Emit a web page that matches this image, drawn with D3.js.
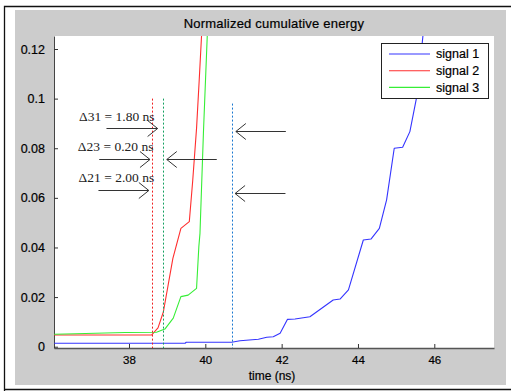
<!DOCTYPE html>
<html>
<head>
<meta charset="utf-8">
<script src="https://cdn.jsdelivr.net/npm/d3@7"></script>
<style>
  html, body { margin: 0; padding: 0; background: #ffffff; }
  svg { display: block; }
</style>
</head>
<body>
<svg id="chart" width="511" height="391"></svg>
<script>
// ---- data ---------------------------------------------------------------
const seriesNames = ["signal 1", "signal 2", "signal 3"];
const seriesColors = ["#3434ff", "#ff2e2e", "#36ee36"];

// time (ns) and normalized cumulative energy for each signal
const signal1Time = [36.04, 39.47, 39.50, 40.69, 40.91, 41.39, 41.61, 41.78, 41.96, 42.15, 42.35, 42.74,
                     43.35, 43.53, 43.75, 44.14, 44.34, 44.56, 44.75, 44.95, 45.17, 45.36, 45.54, 45.70, 45.76];
const signal1Energy = [0.0014, 0.0014, 0.0018, 0.0018, 0.0024, 0.0030, 0.0038, 0.0040, 0.0054, 0.0110, 0.0112, 0.0121,
                       0.0188, 0.0192, 0.0229, 0.0430, 0.0434, 0.0477, 0.0592, 0.0800, 0.0804, 0.0867, 0.1008, 0.1250, 0.1350];

const signal2Time = [36.04, 38.59, 38.76, 38.90, 39.15, 39.36, 39.58, 39.67, 39.77, 39.84, 39.90, 39.93];
const signal2Energy = [0.0047, 0.0047, 0.0076, 0.0140, 0.0356, 0.0477, 0.0504, 0.0670, 0.0880, 0.1075, 0.1250, 0.1350];

const signal3Time = [36.04, 36.60, 37.90, 38.72, 38.94, 39.16, 39.36, 39.55, 39.77, 39.83, 39.86, 39.95, 40.05, 40.08];
const signal3Energy = [0.0050, 0.0052, 0.0057, 0.0058, 0.0071, 0.0115, 0.0202, 0.0208, 0.0235, 0.0403, 0.0457, 0.0860, 0.1250, 0.1350];

// onset markers (dashed verticals): time and top of marker
const markerTime = [40.71, 38.59, 38.90];
const markerTop = [0.098, 0.100, 0.100];
const markerColors = ["#1a78d0", "#f02020", "#14a060"];

// annotation arrows: start time, end (tip) time, energy level
const arrowFrom = [37.41, 37.22, 37.20, 42.11, 40.30, 42.10];
const arrowTo   = [38.75, 38.55, 38.52, 40.80, 38.99, 40.78];
const arrowAt   = [0.0883, 0.0757, 0.0632, 0.0870, 0.0756, 0.0619];

const deltaLabels = ["\u039431 = 1.80 ns", "\u039423 = 0.20 ns", "\u039421 = 2.00 ns"];
const deltaLabelTime = [36.69, 36.66, 36.68];
const deltaLabelAt = [0.0909, 0.0790, 0.0665];

const xTicks = [38, 40, 42, 44, 46];
const yTicks = [0, 0.02, 0.04, 0.06, 0.08, 0.1, 0.12];
const yTickLabels = ["0", "0.02", "0.04", "0.06", "0.08", "0.1", "0.12"];

const xDomain = [36.035, 47.564];
const yDomain = [-0.00052, 0.12524];

// ---- layout -------------------------------------------------------------
const W = 511, H = 391;
const plot = { left: 54, right: 494, top: 36, bottom: 348 };
const sans = "'Liberation Sans', Arial, Helvetica, sans-serif";
const serif = "'Liberation Serif', 'Times New Roman', serif";
const crisp = v => Math.round(v) + 0.5;

const svg = d3.select("#chart");

// figure frame and grey background
svg.append("rect").attr("x", 0).attr("y", 0).attr("width", W).attr("height", H).attr("fill", "#ffffff");
svg.append("rect").attr("x", 15).attr("y", 10).attr("width", 491).attr("height", 375).attr("fill", "#cccccc");
svg.append("path")
  .attr("d", "M4.5,391 V6.5 H511 M4.5,389.5 H511")
  .attr("fill", "none").attr("stroke", "#111").attr("stroke-width", 1.3);

const x = d3.scaleLinear().domain(xDomain).range([plot.left, plot.right]);
const y = d3.scaleLinear().domain(yDomain).range([plot.bottom, plot.top]);

// white axes area
svg.append("rect")
  .attr("x", plot.left).attr("y", plot.top)
  .attr("width", plot.right - plot.left).attr("height", plot.bottom - plot.top)
  .attr("fill", "#ffffff");

svg.append("defs").append("clipPath").attr("id", "plotClip")
  .append("rect")
  .attr("x", plot.left).attr("y", plot.top)
  .attr("width", plot.right - plot.left).attr("height", plot.bottom - plot.top);

// title and x label
svg.append("text")
  .attr("x", (plot.left + plot.right) / 2).attr("y", 28)
  .attr("text-anchor", "middle")
  .attr("font-family", sans).attr("font-size", 13).attr("fill", "#000")
  .attr("letter-spacing", 0.2)
  .attr("stroke", "#000").attr("stroke-width", 0.2)
  .text("Normalized cumulative energy");

svg.append("text")
  .attr("x", (plot.left + plot.right) / 2 - 2).attr("y", 379.5)
  .attr("text-anchor", "middle")
  .attr("font-family", sans).attr("font-size", 12).attr("fill", "#000")
  .attr("stroke", "#000").attr("stroke-width", 0.2)
  .text("time (ns)");

// ---- axes -----------------------------------------------------------------
const xAxis = d3.axisBottom(x).tickValues(xTicks).tickSizeInner(-4).tickSizeOuter(0).tickPadding(8)
  .tickFormat(d3.format("d"));
const gx = svg.append("g").attr("transform", `translate(0,${plot.bottom})`).call(xAxis);
gx.select(".domain").attr("stroke", "#555").attr("stroke-width", 1.6);
gx.selectAll(".tick line").attr("stroke", "#333");
gx.selectAll(".tick text").attr("font-family", sans).attr("font-size", 11.5).attr("fill", "#000")
  .attr("stroke", "#000").attr("stroke-width", 0.2)
  .attr("dy", "0.71em");

const yAxis = d3.axisLeft(y).tickValues(yTicks).tickSizeInner(-4).tickSizeOuter(0).tickPadding(9)
  .tickFormat((d, i) => yTickLabels[i]);
const gy = svg.append("g").attr("transform", `translate(${plot.left},0)`).call(yAxis);
gy.select(".domain").attr("stroke", "#444").attr("stroke-width", 1);
gy.selectAll(".tick line").attr("stroke", "#333");
gy.selectAll(".tick text").attr("font-family", sans).attr("font-size", 12.5).attr("fill", "#000")
  .attr("stroke", "#000").attr("stroke-width", 0.2);

// ---- curves -------------------------------------------------------------
const seriesTime = [signal1Time, signal2Time, signal3Time];
const seriesEnergy = [signal1Energy, signal2Energy, signal3Energy];
const line = d3.line().x(d => x(d[0])).y(d => y(d[1]));

const curves = svg.append("g").attr("clip-path", "url(#plotClip)");
seriesTime.forEach((ts, i) => {
  const pts = ts.map((t, k) => [t, seriesEnergy[i][k]]);
  curves.append("path")
    .datum(pts)
    .attr("d", line)
    .attr("fill", "none")
    .attr("stroke", seriesColors[i])
    .attr("stroke-width", 1.1)
    .attr("stroke-linejoin", "round");
});

// onset markers
markerTime.forEach((t, i) => {
  curves.append("line")
    .attr("x1", crisp(x(t))).attr("x2", crisp(x(t)))
    .attr("y1", y(markerTop[i])).attr("y2", plot.bottom)
    .attr("stroke", markerColors[i])
    .attr("stroke-width", 1)
    .attr("stroke-dasharray", "2,2");
});

// ---- arrows and delta labels -----------------------------------------------
const ann = svg.append("g").attr("stroke", "#333").attr("stroke-width", 1).attr("fill", "none");
arrowFrom.forEach((t0, i) => {
  const x0 = x(t0), x1 = x(arrowTo[i]), yy = crisp(y(arrowAt[i]));
  const dir = x1 > x0 ? 1 : -1;
  ann.append("line").attr("x1", x0).attr("x2", x1).attr("y1", yy).attr("y2", yy);
  ann.append("path")
    .attr("d", `M${x1 - dir * 10},${yy - 8} L${x1},${yy} L${x1 - dir * 10},${yy + 8}`);
});

deltaLabels.forEach((s, i) => {
  svg.append("text")
    .attr("x", x(deltaLabelTime[i])).attr("y", y(deltaLabelAt[i]))
    .attr("font-family", serif).attr("font-size", 13.5).attr("fill", "#222")
    .text(s);
});

// ---- legend ---------------------------------------------------------------
const lg = svg.append("g").attr("transform", "translate(381,43)");
lg.append("rect").attr("x", 0.5).attr("y", 0.5).attr("width", 107).attr("height", 55)
  .attr("fill", "#ffffff").attr("stroke", "#222").attr("stroke-width", 1);
seriesNames.forEach((name, i) => {
  const yy = 11 + i * 16.7;
  lg.append("line").attr("x1", 8).attr("x2", 49).attr("y1", yy).attr("y2", yy)
    .attr("stroke", seriesColors[i]).attr("stroke-width", 1.1);
  lg.append("text").attr("x", 55).attr("y", yy).attr("dy", "0.35em")
    .attr("font-family", sans).attr("font-size", 12.5).attr("fill", "#000")
    .attr("stroke", "#000").attr("stroke-width", 0.2)
    .text(name);
});
</script>
</body>
</html>
